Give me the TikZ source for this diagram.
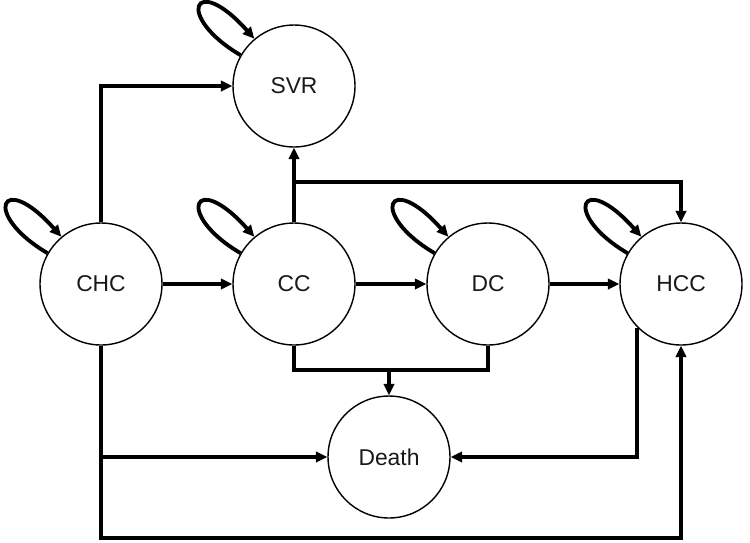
\documentclass[tikz,border=0pt]{standalone}
\usepackage{fontspec}
\setmainfont{Liberation Sans}
\usetikzlibrary{arrows.meta,calc}
\begin{document}
\begin{tikzpicture}[x=0.02cm,y=-0.02cm,
  state/.style={circle,draw,line width=0.8pt,minimum size=2.44cm,inner sep=0pt,
    font=\fontsize{13}{15}\selectfont,text=black!90},
  conn/.style={line width=2.2pt,-{Triangle[length=0.23cm,width=0.21cm]}},
  plain/.style={line width=2.2pt},
  selfloop/.style={conn}
]
\useasboundingbox (0,0) rectangle (750,542);
\node[state] (svr) at (294,86) {SVR};
\node[state] (chc) at (101,284) {CHC};
\node[state] (cc) at (294,284) {CC};
\node[state] (dc) at (488,284) {DC};
\node[state] (hcc) at (681,284) {HCC};
\node[state] (death) at (389,457) {Death};

\coordinate (j1) at (294,182);
\coordinate (j2) at (389,370);
\coordinate (j3) at (101,538);

% self loops
\foreach \n in {svr,chc,cc,dc,hcc}{
  \draw[selfloop] (\n.150) .. controls ($(\n)+(-120,-70)$) and ($(\n)+(-100,-115)$) .. (\n.130);
}

% horizontal chain
\draw[conn] (chc.east) -- (cc.west);
\draw[conn] (cc.east) -- (dc.west);
\draw[conn] (dc.east) -- (hcc.west);

% to SVR
\draw[conn] (chc.north) |- (svr.west);
\draw[conn] (cc.north) -- (svr.south);
\draw[conn] (j1) -| (hcc.north);

% to Death
\draw[plain] (cc.south) |- (j2) -| (dc.south);
\draw[conn] (j2) -- (death.north);
\draw[conn] (chc.south) |- (death.west);
\draw[conn] (hcc.south west) |- (death.east);

% CHC to HCC along bottom
\draw[conn] (chc.south) -- (j3) -| (hcc.south);
\end{tikzpicture}
\end{document}
